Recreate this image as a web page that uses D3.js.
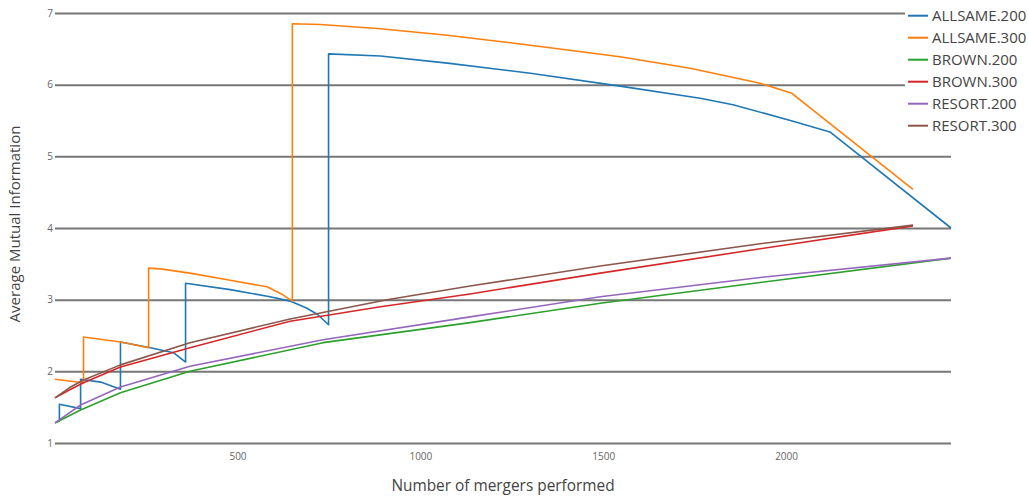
<!DOCTYPE html>
<html>
<head>
<meta charset="utf-8">
<script src="https://cdn.jsdelivr.net/npm/d3@7"></script>
<style>
  body { margin: 0; background: #fff; }
  text { font-family: "Open Sans", sans-serif; }
</style>
</head>
<body>
<div id="chart"></div>
<script>
var width  = 1028;
var height = 496;

// ------------- data -----------------
var seriesNames  = ["ALLSAME.200", "ALLSAME.300", "BROWN.200", "BROWN.300", "RESORT.200", "RESORT.300"];
var seriesColors = ["#1f77b4", "#ff7f0e", "#2ca02c", "#d62728", "#9467bd", "#8c564b"];

var allsame200X = [4, 13, 13, 71, 71, 126, 180, 180, 262, 325, 358, 358, 480, 589, 644, 690, 720, 749, 749, 891, 1074, 1301, 1546, 1765, 1855, 2019, 2120, 2451];
var allsame200Y = [1.29, 1.31, 1.54, 1.48, 1.89, 1.85, 1.75, 2.41, 2.33, 2.26, 2.13, 3.23, 3.14, 3.04, 2.98, 2.88, 2.79, 2.65, 6.43, 6.40, 6.30, 6.16, 5.98, 5.81, 5.72, 5.49, 5.34, 4.00];

var allsame300X = [1, 79, 79, 180, 257, 257, 290, 370, 480, 581, 620, 650, 650, 727, 891, 1074, 1301, 1546, 1738, 1929, 2016, 2347];
var allsame300Y = [1.89, 1.84, 2.48, 2.41, 2.33, 3.44, 3.43, 3.37, 3.27, 3.18, 3.08, 2.98, 6.85, 6.84, 6.78, 6.69, 6.55, 6.39, 6.23, 6.02, 5.88, 4.54];

var brown200X = [1, 71, 180, 370, 734, 1136, 1492, 1929, 2451];
var brown200Y = [1.28, 1.46, 1.70, 2.00, 2.40, 2.68, 2.95, 3.24, 3.58];

var brown300X = [1, 40, 79, 180, 370, 644, 891, 1136, 1492, 1929, 2347];
var brown300Y = [1.63, 1.74, 1.84, 2.06, 2.33, 2.70, 2.90, 3.08, 3.37, 3.71, 4.03];

var resort200X = [1, 71, 180, 370, 734, 1136, 1492, 1929, 2451];
var resort200Y = [1.28, 1.53, 1.78, 2.07, 2.44, 2.76, 3.04, 3.31, 3.58];

var resort300X = [1, 40, 79, 180, 370, 644, 909, 1136, 1492, 1929, 2347];
var resort300Y = [1.63, 1.77, 1.88, 2.09, 2.40, 2.73, 3.00, 3.19, 3.47, 3.78, 4.04];

var seriesX = [allsame200X, allsame300X, brown200X, brown300X, resort200X, resort300X];
var seriesY = [allsame200Y, allsame300Y, brown200Y, brown300Y, resort200Y, resort300Y];

var xTicks = [500, 1000, 1500, 2000];
var yTicks = [1, 2, 3, 4, 5, 6, 7];

// ------------- scales -----------------
const plotLeft   = 55;
const plotRight  = 951;
const plotTop    = 13;
const plotBottom = 443;

var x = d3.scaleLinear().domain([1, 2451]).range([plotLeft, plotRight]);
var y = d3.scaleLinear().domain([1, 7]).range([plotBottom, plotTop]);

var svg = d3.select("#chart").append("svg")
    .attr("width", width)
    .attr("height", height);

// ------------- grid + y axis -----------------
var yAxis = svg.append("g")
    .attr("transform", "translate(" + plotLeft + " 0)")
    .call(d3.axisLeft(y).tickValues(yTicks).tickSize(-(plotRight - plotLeft)).tickPadding(2).tickFormat(d3.format("d")));

yAxis.select(".domain").remove();
yAxis.selectAll("line")
    .attr("stroke", "#777")
    .attr("stroke-width", 2);
yAxis.selectAll("text")
    .attr("fill", "#666")
    .style("font-size", "10px")
    .style("font-family", "'Open Sans', sans-serif");

// ------------- x axis -----------------
var xAxis = svg.append("g")
    .attr("transform", "translate(0 " + plotBottom + ")")
    .call(d3.axisBottom(x).tickValues(xTicks).tickSize(0).tickPadding(10).tickFormat(d3.format("d")));

xAxis.select(".domain").remove();
xAxis.selectAll("text")
    .attr("fill", "#666")
    .style("font-size", "10px")
    .style("font-family", "'Open Sans', sans-serif");

// ------------- lines -----------------
var line = d3.line()
    .x(function(d){ return x(d[0]); })
    .y(function(d){ return y(d[1]); });

for (var i = 0; i < seriesNames.length; i++){
  var pts = seriesX[i].map(function(v, j){ return [v, seriesY[i][j]]; });
  svg.append("path")
    .datum(pts)
    .attr("d", line)
    .attr("fill", "none")
    .attr("stroke", seriesColors[i])
    .attr("stroke-width", 1.6)
    .attr("stroke-linejoin", "round");
}

// ------------- axis titles -----------------
svg.append("text")
    .attr("x", 503)
    .attr("y", 491)
    .attr("text-anchor", "middle")
    .attr("fill", "#444")
    .style("font-size", "15.4px")
    .text("Number of mergers performed");

svg.append("text")
    .attr("transform", "translate(20 224) rotate(-90)")
    .attr("text-anchor", "middle")
    .attr("fill", "#444")
    .style("font-size", "15px")
    .text("Average Mutual Information");

// ------------- legend -----------------
var legend = svg.append("g");

legend.append("rect")
    .attr("x", 905).attr("y", 0)
    .attr("width", width - 905).attr("height", 138)
    .attr("fill", "#fff");

for (var i = 0; i < seriesNames.length; i++){
  var ly = 15.7 + i * 22;
  legend.append("line")
    .attr("x1", 908).attr("x2", 928)
    .attr("y1", ly).attr("y2", ly)
    .attr("stroke", seriesColors[i])
    .attr("stroke-width", 2);
  legend.append("text")
    .attr("x", 932)
    .attr("y", ly + 5.5)
    .attr("fill", "#444")
    .style("font-size", "15px")
    .text(seriesNames[i]);
}
</script>
</body>
</html>
